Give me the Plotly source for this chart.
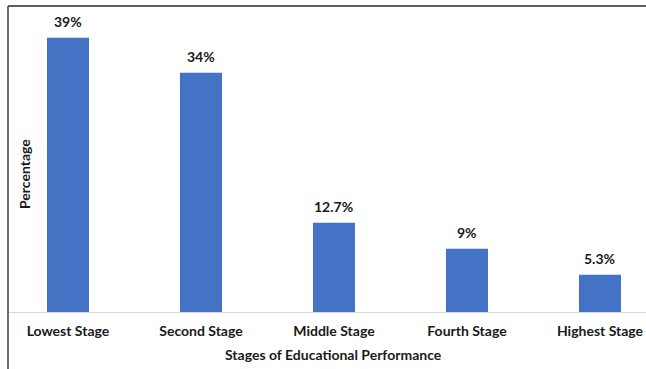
import plotly.graph_objects as go

categories = ["Lowest Stage", "Second Stage", "Middle Stage", "Fourth Stage", "Highest Stage"]
values = [39, 34, 12.7, 9, 5.3]
labels = ["39%", "34%", "12.7%", "9%", "5.3%"]

W, H = 646, 369
ml, mr, mt, mb = 8, 0, 6, 57
pw = W - ml - mr
ph = H - mt - mb

bold = dict(family="Lato", size=14, color="#1a1a1a", weight="bold")

fig = go.Figure(go.Bar(
    x=list(range(len(categories))),
    y=values,
    cliponaxis=False,
    marker=dict(color="#4472C4", line=dict(width=0)),
    width=0.316,
))

annotations = [
    dict(x=i, y=v, xref="x", yref="y", text=t, showarrow=False,
         yanchor="bottom", xanchor="center", yshift=6, font=bold)
    for i, (v, t) in enumerate(zip(values, labels))
]
annotations += [
    dict(text="Stages of Educational Performance", xref="paper", yref="paper",
         x=(333 - ml) / pw, y=(312 - 354) / ph, xanchor="center", yanchor="middle",
         showarrow=False, font=bold),
    dict(text="Percentage", xref="paper", yref="paper",
         x=(24 - ml) / pw, y=(312 - 174) / ph, xanchor="center", yanchor="middle",
         textangle=-90, showarrow=False, font=bold),
]

fig.update_layout(
    width=W, height=H,
    margin=dict(l=ml, r=mr, t=mt, b=mb, pad=0),
    paper_bgcolor="white", plot_bgcolor="white",
    showlegend=False,
    font=dict(family="Lato", color="#1a1a1a"),
    xaxis=dict(
        range=[-0.451, 4.346],
        tickmode="array",
        tickvals=list(range(len(categories))),
        ticktext=categories,
        tickfont=bold,
        ticklabelstandoff=6,
        showline=True, linecolor="#d9d9d9", linewidth=1,
        showgrid=False, zeroline=False, ticks="", ticklen=0,
    ),
    yaxis=dict(
        range=[0, 43.5],
        showticklabels=False, showgrid=False, zeroline=False, showline=False,
        ticks="",
    ),
    shapes=[
        dict(type="line", xref="paper", yref="paper", x0=0, x1=1.05, y0=1, y1=1,
             line=dict(color="#606060", width=2)),
        dict(type="line", xref="paper", yref="paper", x0=0, x1=0, y0=1, y1=-0.25,
             line=dict(color="#404040", width=1.5)),
    ],
    annotations=annotations,
)

fig.write_html("out.html")
